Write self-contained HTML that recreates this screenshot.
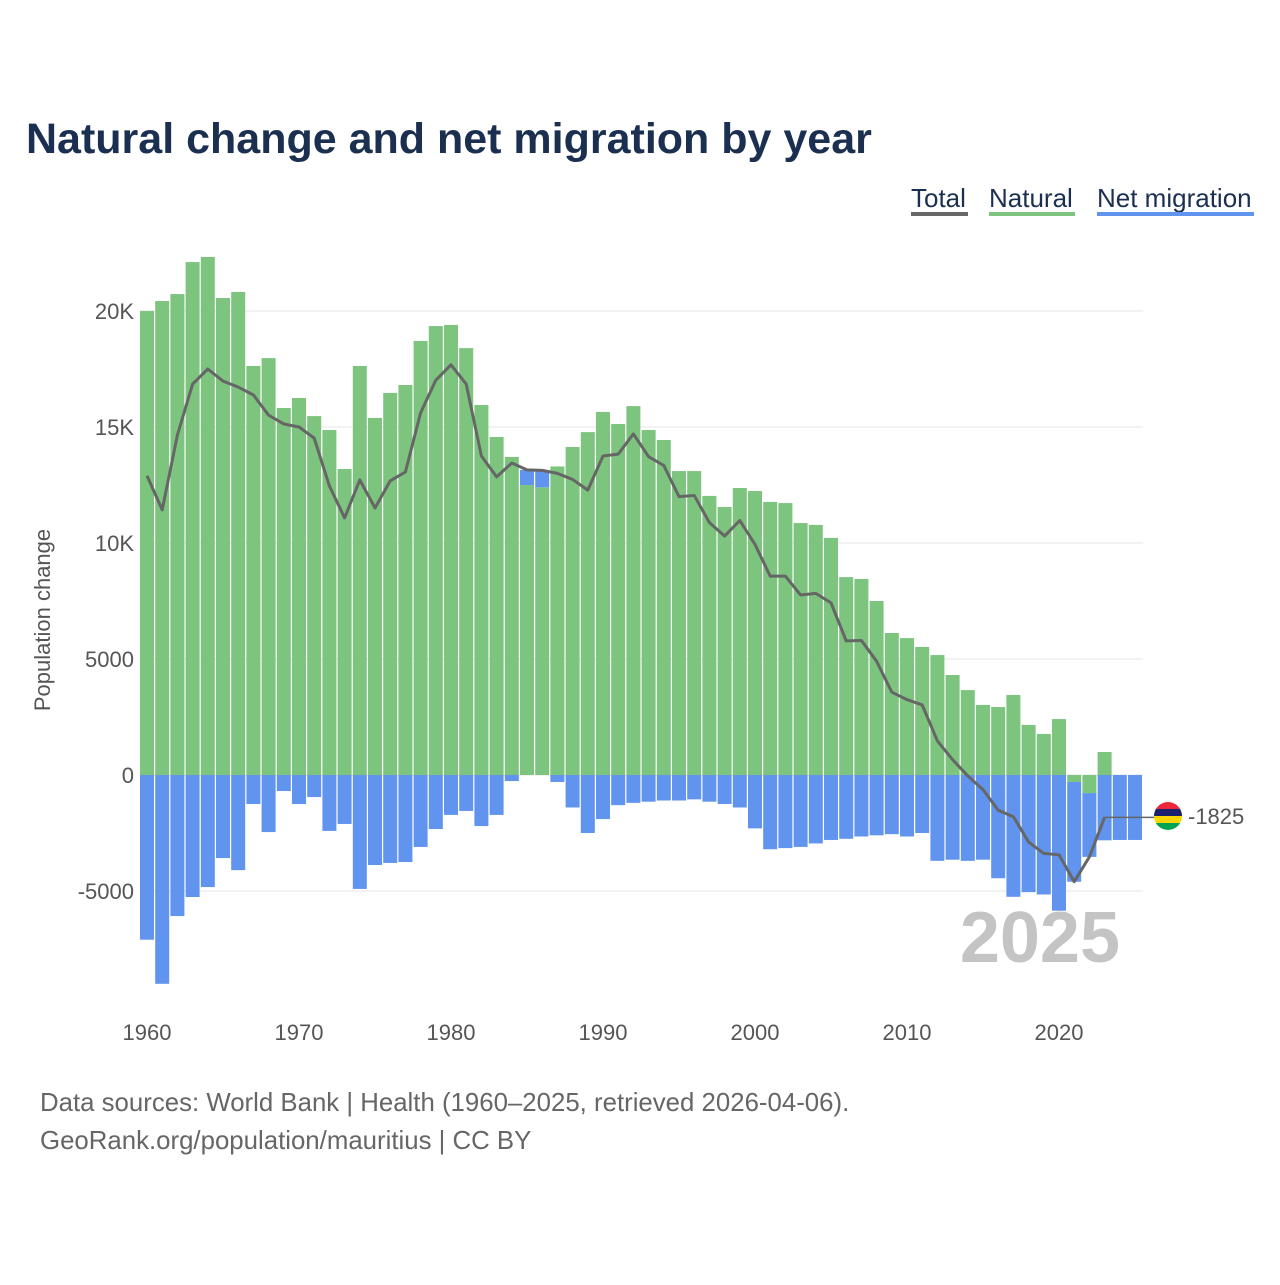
<!DOCTYPE html>
<html><head><meta charset="utf-8"><style>
body{margin:0;background:#fff;font-family:"Liberation Sans",sans-serif}
svg text{font-family:"Liberation Sans",sans-serif}
</style></head><body>
<svg id="c" width="1280" height="1280" viewBox="0 0 1280 1280">
<text x="26" y="153" font-size="43" font-weight="bold" fill="#1b3050">Natural change and net migration by year</text>
<g>
<g><text x="911" y="207" font-size="26" fill="#1b3050">Total</text><rect x="911" y="212" width="57" height="4" fill="#666"/></g>
<g><text x="989" y="207" font-size="26" fill="#1b3050">Natural</text><rect x="989" y="212" width="86" height="4" fill="#7dc47f"/></g>
<g><text x="1097" y="207" font-size="26" fill="#1b3050">Net migration</text><rect x="1097" y="212" width="157" height="4" fill="#6094ee"/></g>
</g>
<text transform="translate(50,620) rotate(-90)" text-anchor="middle" font-size="22" fill="#555">Population change</text>
<g id="grid"></g><g id="bars"></g><g id="line"></g><g id="xt"></g>
<text x="1120" y="962" text-anchor="end" font-size="72" font-weight="bold" fill="#c4c4c4">2025</text>
<g>
<clipPath id="fc"><circle cx="1168" cy="816" r="14"/></clipPath>
<g clip-path="url(#fc)"><rect x="1154" y="802" width="28" height="7" fill="#ea2839"/><rect x="1154" y="809" width="28" height="7" fill="#1a206d"/><rect x="1154" y="816" width="28" height="7" fill="#ffd500"/><rect x="1154" y="823" width="28" height="7" fill="#00a551"/></g>
<text x="1188" y="824" font-size="22" fill="#555">-1825</text>
</g>
<text x="40" y="1111" font-size="25.8" fill="#666">Data sources: World Bank | Health (1960–2025, retrieved 2026-04-06).</text>
<text x="40" y="1149" font-size="25.8" fill="#666">GeoRank.org/population/mauritius | CC BY</text>
</svg>
<script>
const years=[];for(let y=1960;y<=2025;y++)years.push(y);
const natural=[20000,20430,20730,22110,22330,20560,20820,17630,17970,15820,16250,15470,14870,13190,17630,15390,16470,16810,18710,19350,19400,18400,15950,14570,13710,12500,12400,13300,14140,14780,15650,15130,15900,14870,14440,13100,13100,12030,11550,12370,12240,11770,11720,10860,10780,10220,8530,8450,7500,6120,5900,5520,5170,4310,3660,3020,2930,3450,2160,1770,2410,-300,-780,990,0,0];
const migration=[-7100,-9000,-6080,-5260,-4830,-3580,-4100,-1250,-2460,-690,-1250,-950,-2410,-2110,-4910,-3880,-3790,-3750,-3100,-2330,-1720,-1550,-2200,-1720,-260,650,730,-300,-1400,-2500,-1900,-1300,-1200,-1150,-1100,-1100,-1050,-1150,-1250,-1400,-2300,-3200,-3150,-3100,-2950,-2800,-2750,-2650,-2600,-2550,-2650,-2500,-3700,-3650,-3700,-3650,-4450,-5250,-5050,-5150,-5850,-4300,-2750,-2815,-2800,-2800];
const yTicks=[-5000,0,5000,10000,15000,20000];
const yTickLabels=["-5000","0","5000","10K","15K","20K"];
const xTicks=[1960,1970,1980,1990,2000,2010,2020];
const lastTotalYear=2023;
const NS="http://www.w3.org/2000/svg";
const X=y=>147+(y-1960)*15.2;
const Y=v=>775-v*0.0232;
function mk(t,a,p){const e=document.createElementNS(NS,t);for(const k in a)e.setAttribute(k,a[k]);p.appendChild(e);return e;}
const g=document.getElementById('grid');
yTicks.forEach((v,i)=>{
 const l=mk('line',{x1:140,x2:1143,y1:Y(v),y2:Y(v),stroke:'#e6e6e6','stroke-width':1},g);
 
 
 const t=mk('text',{x:134,y:Y(v)+8,'text-anchor':'end','font-size':22,fill:'#555'},g);
 
 
 t.textContent=yTickLabels[i];
});
const xt=document.getElementById('xt');
xTicks.forEach(y=>{
 const t=mk('text',{x:X(y),y:1040,'text-anchor':'middle','font-size':22,fill:'#555'},xt);
 
 
 t.textContent=y;
});
const b=document.getElementById('bars');
function bar(y,v0,v1,col,name){
 const top=Math.min(Y(v0),Y(v1)),h=Math.abs(Y(v1)-Y(v0));
 const r=mk('rect',{x:X(y)-7,y:top,width:14,height:h,fill:col},b);
 
 
}
years.forEach((y,i)=>{
 const n=natural[i],m=migration[i];
 bar(y,0,n,'#7dc47f','bar-natural-'+y);
 let base=(n>=0&&m>=0)||(n<0&&m<0)?n:0;
 bar(y,base,base+m,'#6094ee','bar-migration-'+y);
});
const lg=document.getElementById('line');
let pts=[];
years.forEach((y,i)=>{if(y<=lastTotalYear)pts.push(X(y)+','+Y(natural[i]+migration[i]));});
const li=years.indexOf(lastTotalYear);
const lastV=natural[li]+migration[li];
const p=mk('polyline',{points:pts.join(' '),fill:'none',stroke:'#666','stroke-width':3,'stroke-linejoin':'round'},lg);


const ext=mk('line',{x1:X(lastTotalYear),x2:1155,y1:Y(lastV),y2:Y(lastV),stroke:'#666','stroke-width':1.5},lg);


</script>
</body></html>
